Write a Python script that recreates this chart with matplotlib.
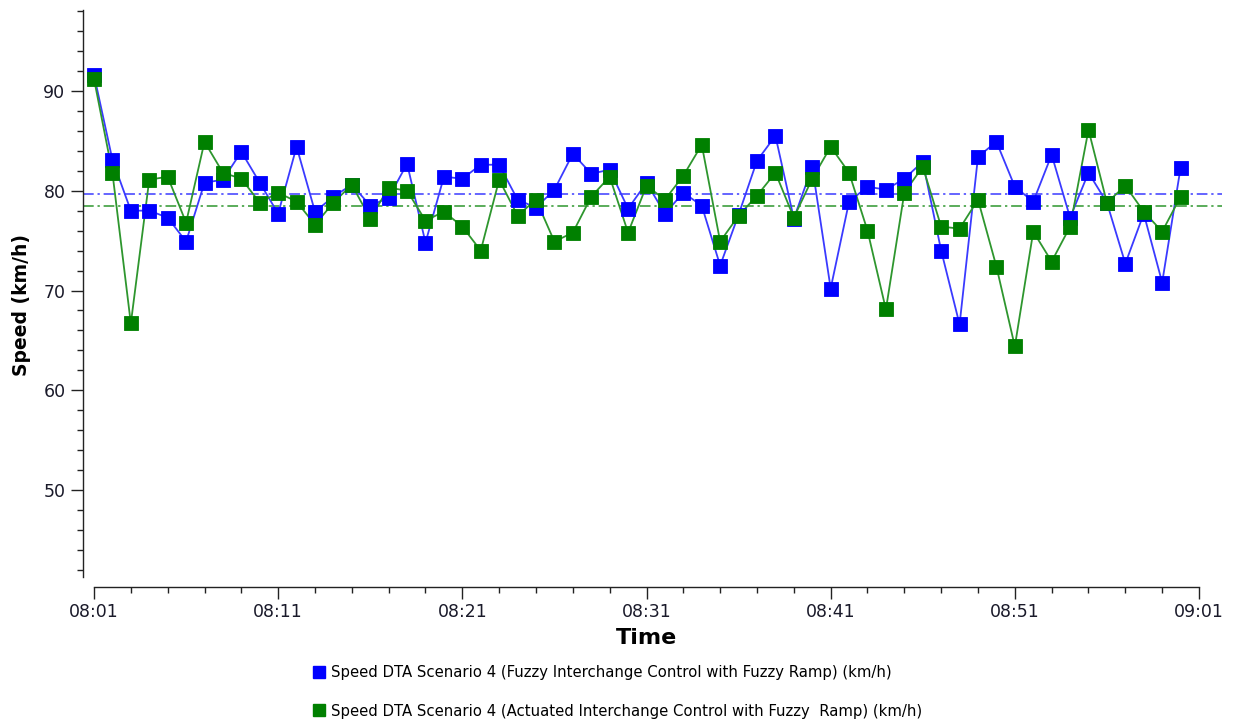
import matplotlib
matplotlib.use("Agg")
import matplotlib.pyplot as plt
from matplotlib.lines import Line2D
from matplotlib.ticker import MultipleLocator, FuncFormatter
import numpy as np

# Sample times: minutes after 08:00 (08:01 ... 09:00)
minutes = np.arange(1, 61)

speed_fuzzy = [91.6, 83.1, 78.0, 78.0, 77.3, 74.9, 80.8, 81.1, 83.9, 80.8,
               77.7, 84.4, 77.9, 79.4, 80.6, 78.5, 79.3, 82.7, 74.8, 81.4,
               81.2, 82.6, 82.6, 79.1, 78.3, 80.1, 83.7, 81.7, 82.1, 78.2,
               80.8, 77.7, 79.8, 78.5, 72.5, 77.6, 83.0, 85.5, 77.2, 82.4,
               70.2, 78.9, 80.4, 80.1, 81.2, 82.9, 74.0, 66.6, 83.4, 84.9,
               80.4, 78.9, 83.6, 77.3, 81.8, 78.8, 72.7, 77.7, 70.8, 82.3]

speed_actuated = [91.2, 81.8, 66.7, 81.1, 81.4, 76.8, 84.9, 81.8, 81.2, 78.8,
                  79.8, 78.9, 76.6, 78.8, 80.6, 77.2, 80.3, 80.0, 77.0, 77.9,
                  76.4, 74.0, 81.1, 77.5, 79.1, 74.9, 75.8, 79.4, 81.4, 75.8,
                  80.5, 79.1, 81.5, 84.6, 74.9, 77.5, 79.5, 81.8, 77.3, 81.2,
                  84.4, 81.8, 76.0, 68.1, 79.8, 82.4, 76.4, 76.2, 79.1, 72.4,
                  64.4, 75.9, 72.9, 76.4, 86.1, 78.8, 80.5, 77.9, 75.9, 79.4]

labels = ["Speed DTA Scenario 4 (Fuzzy Interchange Control with Fuzzy Ramp) (km/h)",
          "Speed DTA Scenario 4 (Actuated Interchange Control with Fuzzy  Ramp) (km/h)"]
colors = ["#0000ff", "#008000"]
line_colors = ["#3a3aff", "#2e962e"]

W, H = 1235, 725
fig = plt.figure(figsize=(W / 100, H / 100), dpi=100)
plt.rcParams["font.family"] = ["DejaVu Sans"]

# axes frame in pixels (left, top, right, bottom)
L, T, R, B = 83, 10, 1222, 577
ax = fig.add_axes([L / W, 1 - B / H, (R - L) / W, (B - T) / H])

px_per_min = (1199 - 94) / 60.0
x0 = 1 - (94 - L) / px_per_min
x1 = 61 + (R - 1199) / px_per_min
ax.set_xlim(x0, x1)
ax.set_ylim(41.3, 98.1)

series = [speed_fuzzy, speed_actuated]
for vals, c, lc in zip(series, colors, line_colors):
    ax.plot(minutes, vals, color=lc, lw=1.3, zorder=3)
    ax.plot(minutes, vals, linestyle="none", marker="s", markersize=9.4,
            markerfacecolor=c, markeredgecolor=c, markeredgewidth=0.6,
            zorder=4)

for vals, lc in zip(series, line_colors):
    ax.axhline(np.mean(vals), color=lc, lw=1.1, dashes=(7, 2.5, 1.5, 2.5),
               zorder=2)

for s in ["top", "right"]:
    ax.spines[s].set_visible(False)
ax.spines["bottom"].set_position(("outward", 7.2))
ax.spines["bottom"].set_bounds(1, 61)
for s in ["left", "bottom"]:
    ax.spines[s].set_color("#222222")
    ax.spines[s].set_linewidth(1.0)

ax.yaxis.set_minor_locator(MultipleLocator(2))
ax.set_yticks([50, 60, 70, 80, 90])
ax.set_xticks(np.arange(1, 62, 10))
ax.set_xticks(np.arange(1, 62, 2), minor=True)
ax.xaxis.set_major_formatter(
    FuncFormatter(lambda v, p: f"{8 + int(v) // 60:02d}:{int(v) % 60:02d}"))

ax.tick_params(axis="both", which="major", direction="out", length=8.6,
               width=1.0, color="#222222", labelsize=12.5,
               labelcolor="#1a1a2a")
ax.tick_params(axis="both", which="minor", direction="out", length=4.5,
               width=1.0, color="#222222")
ax.tick_params(axis="x", which="major", pad=3)
ax.tick_params(axis="y", which="major", pad=4)

fig.text(647 / W, 1 - 638 / H, "Time", ha="center", va="center",
         fontsize=16, fontweight="bold")
fig.text(22 / W, 1 - 305 / H, "Speed (km/h)", ha="center", va="center",
         rotation=90, fontsize=13.5, fontweight="bold")

handles = [Line2D([], [], linestyle="none", marker="s", markersize=8.6,
                  markerfacecolor=c, markeredgecolor=c) for c in colors]
fig.legend(handles, labels, loc="center left",
           bbox_to_anchor=(305 / W, 1 - 692 / H), frameon=False,
           fontsize=10.7, handlelength=0.9, handletextpad=0.35,
           labelspacing=1.55, borderpad=0)

fig.savefig("out.png", dpi=100)
